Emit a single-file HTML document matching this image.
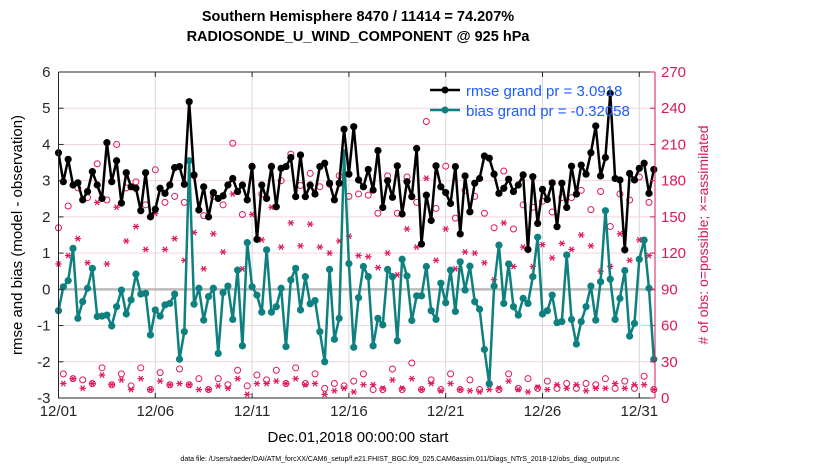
<!DOCTYPE html>
<html><head><meta charset="utf-8"><style>
body{margin:0;background:#fff;width:830px;height:470px;overflow:hidden}
svg{font-family:"Liberation Sans",sans-serif}
</style></head><body>
<svg id="chart" width="830" height="470" viewBox="0 0 830 470" xmlns="http://www.w3.org/2000/svg">
<text x="358" y="21" text-anchor="middle" font-size="14.5" font-weight="bold">Southern Hemisphere 8470 / 11414 = 74.207%</text>
<text x="358" y="41" text-anchor="middle" font-size="14.5" font-weight="bold">RADIOSONDE_U_WIND_COMPONENT @ 925 hPa</text>
<g id="grid"></g>
<g id="marks"></g>
<g id="axes"></g>
<text x="358" y="442" text-anchor="middle" font-size="15">Dec.01,2018 00:00:00 start</text>
<text transform="translate(22,235) rotate(-90)" text-anchor="middle" font-size="15">rmse and bias (model - observation)</text>
<text transform="translate(708,235) rotate(-90)" text-anchor="middle" font-size="14" fill="#d6195a"># of obs: o=possible; ×=assimilated</text>
<text x="400" y="461" text-anchor="middle" font-size="7">data file: /Users/raeder/DAI/ATM_forcXX/CAM6_setup/f.e21.FHIST_BGC.f09_025.CAM6assim.011/Diags_NTrS_2018-12/obs_diag_output.nc</text>
<g id="legend">
<line x1="430" y1="90" x2="460" y2="90" stroke="#000" stroke-width="2.5"/><circle cx="445" cy="90" r="3.5" fill="#000"/>
<text x="466" y="96" font-size="15" fill="#1a5cff">rmse grand pr = 3.0918</text>
<line x1="430" y1="110" x2="460" y2="110" stroke="#0e8080" stroke-width="2.5"/><circle cx="445" cy="110" r="3.5" fill="#0e8080"/>
<text x="466" y="116" font-size="15" fill="#1a5cff">bias grand pr = -0.32058</text>
</g>
</svg>
<script>
const dateLabels=["12/01","12/06","12/11","12/16","12/21","12/26","12/31"];
const dateTickDays=[0,5,10,15,20,25,30];
const leftTicks=[-3,-2,-1,0,1,2,3,4,5,6];
const rightTicks=[0,30,60,90,120,150,180,210,240,270];
const rmse=[3.77,2.97,3.59,2.88,2.94,2.47,2.70,3.25,2.88,2.51,4.05,2.97,3.55,2.38,3.22,2.83,2.79,2.17,3.22,2.0,2.21,2.79,2.65,2.88,3.36,3.39,2.90,5.18,3.16,2.19,2.83,2.0,
2.67,2.51,2.58,2.88,3.06,2.70,2.88,2.47,3.39,1.38,2.88,2.51,3.39,2.28,3.34,3.39,3.64,2.56,3.71,2.56,2.88,2.63,3.39,3.48,2.93,2.47,2.93,4.42,3.18,4.49,3.02,
2.83,3.31,2.74,3.83,2.26,3.0,2.54,3.41,2.08,2.97,2.56,3.89,1.25,2.60,1.90,3.41,2.83,2.67,2.37,3.39,1.53,3.13,2.14,2.93,3.06,3.68,3.62,3.18,2.65,2.79,3.04,
2.70,2.88,3.16,1.10,3.11,1.82,2.76,2.48,2.94,1.73,2.93,2.26,3.40,2.63,3.43,3.18,3.77,4.51,3.13,3.64,5.41,3.06,3.02,1.09,3.20,3.02,3.34,3.48,2.65,3.31];
const bias=[-0.59,0.07,0.24,1.13,-0.80,-0.34,0.03,0.58,-0.75,-0.74,-0.71,-1.01,-0.48,-0.02,-0.68,-0.29,0.42,-0.13,-0.11,-1.26,-0.57,-0.74,-0.43,-0.39,-0.13,-1.93,-1.17,3.55,-0.41,0.03,-0.85,-0.20,
0.03,-1.77,-0.09,0.09,-0.83,0.53,-1.56,1.29,0.07,-0.16,-0.63,1.09,-0.63,-0.48,0.03,-1.58,0.26,0.58,-0.57,0.35,-0.40,-0.31,-1.17,-2.0,0.55,-1.38,-0.80,3.77,0.71,-1.60,-0.23,
0.63,0.35,-1.56,-0.80,-0.98,0.55,0.35,-1.42,0.83,0.37,-0.86,-0.18,-0.18,0.63,-0.59,-0.83,0.17,-0.37,0.53,-0.61,0.76,-0.02,0.64,-0.34,-0.55,-1.66,-2.61,0.09,1.22,-0.39,0.70,
-0.48,-0.71,-0.25,-0.39,0.35,1.44,-0.68,-0.59,-0.16,-0.92,-0.89,0.95,-0.83,-1.51,-0.89,-0.48,0.09,-0.85,0.21,2.17,0.28,-0.83,-0.25,0.52,-1.29,-0.94,0.83,1.36,0.03,-1.93];
const possible=[141,20,159,16,174,15,166,12,194,25,164,11,210,20,174,10,179,25,160,7,189,21,162,11,167,24,162,11,184,16,151,7,
167,16,160,11,211,23,152,10,192,19,169,15,192,23,180,12,202,25,176,12,186,20,175,8,177,12,184,10,167,14,169,20,
168,7,153,7,184,24,153,7,183,29,162,7,229,15,157,7,192,20,149,7,172,15,167,7,153,12,141,7,188,20,
140,8,160,16,158,8,163,14,154,8,166,12,166,8,172,12,156,11,171,16,142,8,169,14,164,8,183,18,162,7];
const assimilated=[111,12,118,16,132,8,112,12,162,19,111,11,158,15,130,7,142,16,123,7,153,14,123,11,132,12,114,11,137,7,107,7,
136,10,121,8,169,16,107,3,152,12,131,12,158,14,125,12,145,16,126,11,144,12,125,3,120,6,130,8,134,5,118,11,
117,11,108,8,120,15,102,8,140,16,125,7,182,12,114,6,140,12,107,7,121,6,120,5,112,7,98,8,145,14,
109,7,125,5,109,9,127,7,116,11,128,8,123,11,135,6,126,8,105,8,109,12,136,8,114,11,131,11,118,7];

const NS="http://www.w3.org/2000/svg";
const L=58.5,R=655,T=72,B=398;
const xDay=d=>L+d*19.36;
const xIdx=i=>xDay(i/4);
const yL=v=>B-(v+3)/9*(B-T);
const yR=c=>B-c/270*(B-T);
function mk(tag,attrs,parent){const e=document.createElementNS(NS,tag);for(const k in attrs)e.setAttribute(k,attrs[k]);parent.appendChild(e);return e;}
const grid=document.getElementById('grid'),marks=document.getElementById('marks'),axes=document.getElementById('axes');
leftTicks.forEach(v=>{if(v>-3&&v<6&&v!==0){const l=mk('line',{x1:L,x2:R,y1:yL(v),y2:yL(v),stroke:'#f3d3e0','stroke-width':1},grid);

}});
dateTickDays.forEach(d=>{const l=mk('line',{x1:xDay(d),x2:xDay(d),y1:T,y2:B,stroke:'#d8d8d8','stroke-width':1},grid);

});
const z=mk('line',{x1:L,x2:R,y1:yL(0),y2:yL(0),stroke:'#bbbbbb','stroke-width':2.5},grid);


possible.forEach((c,i)=>{const e=mk('circle',{cx:xIdx(i),cy:yR(c),r:3,fill:'none',stroke:'#e0185c','stroke-width':1},marks);

});
assimilated.forEach((c,i)=>{const x=xIdx(i),y=yR(c),s=3.2;const g=mk('g',{stroke:'#e0185c','stroke-width':1.2},marks);


mk('line',{x1:x-s,x2:x+s,y1:y,y2:y},g);mk('line',{x1:x-s*0.6,x2:x+s*0.6,y1:y-s*0.85,y2:y+s*0.85},g);mk('line',{x1:x-s*0.6,x2:x+s*0.6,y1:y+s*0.85,y2:y-s*0.85},g);});
function series(arr,color,name){const p=mk('polyline',{points:arr.map((v,i)=>xIdx(i)+','+yL(v)).join(' '),fill:'none',stroke:color,'stroke-width':2.5,'stroke-linejoin':'round'},marks);


arr.forEach((v,i)=>{const c=mk('circle',{cx:xIdx(i),cy:yL(v),r:3.6,fill:color},marks);

});}
series(bias,'#0e8080','bias');
series(rmse,'#000000','rmse');
const box=mk('path',{d:`M${L},${T}H${R}M${L},${T}V${B}H${R}`,fill:'none',stroke:'#262626','stroke-width':1},axes);


const ra=mk('line',{x1:R,x2:R,y1:T,y2:B,stroke:'#d6195a','stroke-width':1},axes);


leftTicks.forEach(v=>{mk('line',{x1:L,x2:L+5,y1:yL(v),y2:yL(v),stroke:'#262626'},axes);
const t=mk('text',{x:L-8,y:yL(v)+5,'text-anchor':'end','font-size':15,fill:'#262626'},axes);t.textContent=v;

});
rightTicks.forEach(c=>{mk('line',{x1:R-5,x2:R,y1:yR(c),y2:yR(c),stroke:'#d6195a'},axes);
const t=mk('text',{x:R+6,y:yR(c)+5,'font-size':15,fill:'#d6195a'},axes);t.textContent=c;

});
dateTickDays.forEach((d,k)=>{mk('line',{x1:xDay(d),x2:xDay(d),y1:B,y2:B-5,stroke:'#262626'},axes);mk('line',{x1:xDay(d),x2:xDay(d),y1:T,y2:T+5,stroke:'#262626'},axes);
const t=mk('text',{x:xDay(d),y:B+18,'text-anchor':'middle','font-size':15,fill:'#262626'},axes);t.textContent=dateLabels[k];

});
</script>
</body></html>
